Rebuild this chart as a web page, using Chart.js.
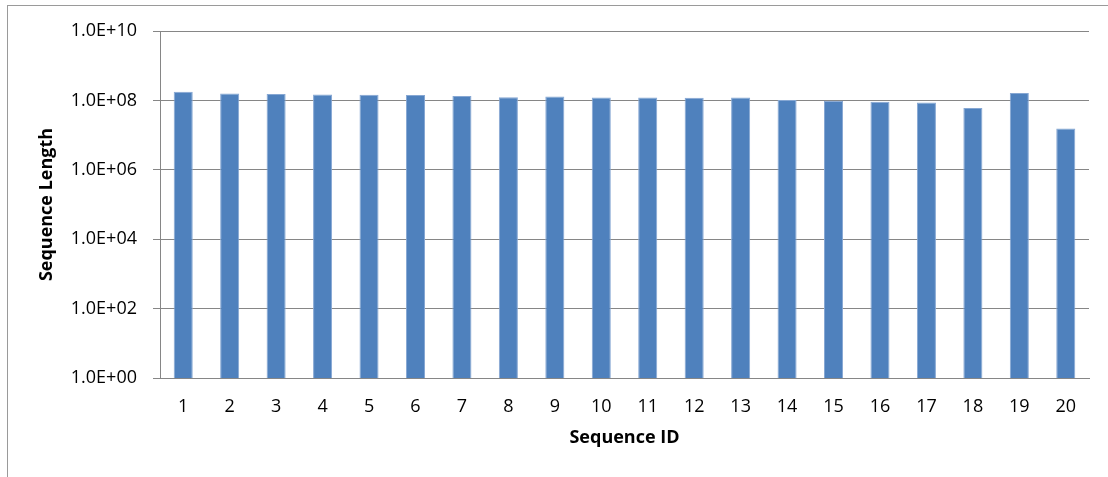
<!DOCTYPE html>
<html>
<head>
<meta charset="utf-8">
<script src="https://cdn.jsdelivr.net/npm/chart.js@4"></script>
<style>
    body { margin: 0; background: #fff; overflow: hidden; }
    #frame { position: absolute; left: 7px; top: 5px; width: 1200px; height: 600px;
             border-left: 1px solid #9a9a9a; border-top: 1px solid #9a9a9a; }
    #wrap { position: absolute; left: 0; top: 0; width: 1108px; height: 477px; }
</style>
</head>
<body>
<div id="frame"></div>
<div id="wrap"><canvas id="barChart"></canvas></div>
<script>
// Sequence lengths
const sequenceIds = ["1", "2", "3", "4", "5", "6", "7", "8", "9", "10",
                     "11", "12", "13", "14", "15", "16", "17", "18", "19", "20"];
const sequenceLengths = [1.77e8, 1.59e8, 1.52e8, 1.49e8, 1.45e8, 1.42e8, 1.33e8, 1.24e8, 1.30e8, 1.22e8,
                         1.22e8, 1.19e8, 1.22e8, 1.02e8, 0.97e8, 0.91e8, 0.875e8, 0.60e8, 1.63e8, 1.56e7];
const yTicks = [1, 1e2, 1e4, 1e6, 1e8, 1e10];
const yTickLabels = ["1.0E+00", "1.0E+02", "1.0E+04", "1.0E+06", "1.0E+08", "1.0E+10"];

const font = "'Open Sans', sans-serif";
const grey = "#868686";

let barChart;

function createChart() {
    const ctx = document.getElementById("barChart").getContext("2d");

    barChart = new Chart(ctx, {
        type: "bar",
        data: {
            labels: sequenceIds,
            datasets: [{
                label: "Sequence Length",
                data: sequenceLengths,
                backgroundColor: "#4F81BD",
                borderColor: "#86A7D3",
                borderWidth: 1,
                barPercentage: 0.41,
                categoryPercentage: 1
            }]
        },
        options: {
            responsive: true,
            maintainAspectRatio: false,
            animation: false,
            layout: { padding: { left: 0, top: 31, right: 19, bottom: 0 } },
            plugins: {
                legend: { display: false },
                tooltip: { enabled: false }
            },
            scales: {
                x: {
                    grid: { display: false, drawTicks: false },
                    border: { display: true, color: grey, width: 1 },
                    ticks: { color: "#000", padding: 18, font: { family: font, size: 18 } },
                    title: {
                        display: true,
                        text: "Sequence ID",
                        color: "#000",
                        font: { family: font, size: 18, weight: "bold" },
                        padding: { top: 0, bottom: 28 }
                    },
                    afterFit: function (scale) { scale.height = 99; }
                },
                y: {
                    type: "logarithmic",
                    min: 1,
                    max: 1e10,
                    grid: { color: grey, lineWidth: 1, drawTicks: true, tickLength: 7, tickColor: grey },
                    border: { display: true, color: grey, width: 1 },
                    ticks: {
                        color: "#000",
                        padding: 16,
                        font: { family: font, size: 18 },
                        callback: function (value) {
                            const i = yTicks.indexOf(value);
                            return i >= 0 ? yTickLabels[i] : "";
                        }
                    },
                    afterBuildTicks: function (scale) {
                        scale.ticks = yTicks.map(v => ({ value: v }));
                    },
                    title: {
                        display: true,
                        text: "Sequence Length",
                        color: "#000",
                        font: { family: font, size: 18, weight: "bold" },
                        padding: { top: 36, bottom: 0 }
                    },
                    afterFit: function (scale) { scale.width = 160; }
                }
            }
        }
    });
}

window.onload = createChart;
</script>
</body>
</html>
